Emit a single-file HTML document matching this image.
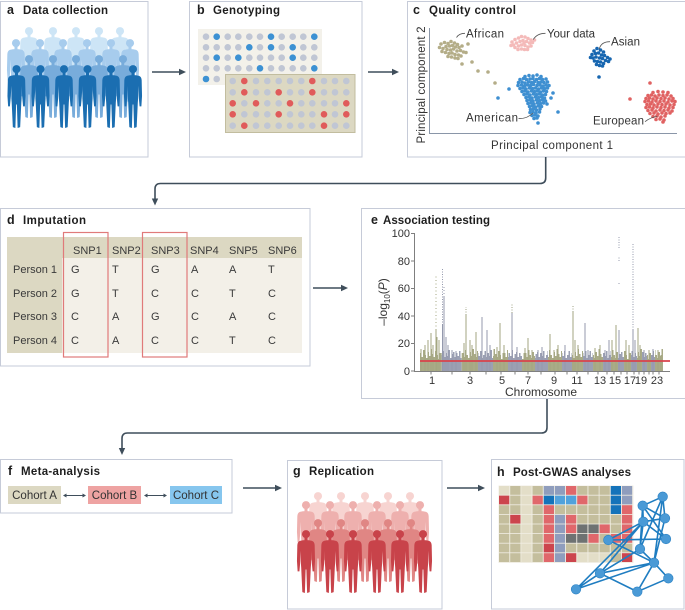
<!DOCTYPE html>
<html><head><meta charset="utf-8">
<style>
html,body{margin:0;padding:0;background:#fff;}
svg{display:block;font-family:"Liberation Sans",Arial,sans-serif;}
</style></head><body>
<svg width="685" height="610" viewBox="0 0 685 610" xmlns="http://www.w3.org/2000/svg">
<defs>
<symbol id="p" viewBox="0 0 20 68">
<circle cx="10" cy="4.4" r="4.3"/>
<rect x="8.4" y="7" width="3.2" height="5"/>
<path d="M3.5 11.5 Q10 10 16.5 11.5 Q19 12.5 19.2 16 L19.6 33 L18.9 44 L17 44 L16 33 L15.5 22 L15.4 36 L15.1 40 L13.9 66 L11.2 67 L10.4 42 L9.6 42 L8.8 67 L6.1 66 L4.9 40 L4.6 36 L4.5 22 L4 33 L3 44 L1.1 44 L0.4 33 L0.8 16 Q1 12.5 3.5 11.5 Z"/>
</symbol>
<pattern id="po" patternUnits="userSpaceOnUse" x="0" y="341" width="21" height="30">
<path d="M0.75 30V12M2.25 30V16M3.75 30V9M5.25 30V14M6.75 30V17M8.25 30V11M9.75 30V15M11.25 30V8M12.75 30V13M14.25 30V16M15.75 30V10M17.25 30V14M18.75 30V18M20.25 30V12" stroke="#a9ab87" stroke-width="1.5"/>
</pattern>
<pattern id="pg" patternUnits="userSpaceOnUse" x="0" y="341" width="21" height="30">
<path d="M0.75 30V14M2.25 30V10M3.75 30V16M5.25 30V12M6.75 30V15M8.25 30V9M9.75 30V17M11.25 30V13M12.75 30V11M14.25 30V16M15.75 30V12M17.25 30V15M18.75 30V10M20.25 30V17" stroke="#9ba0b3" stroke-width="1.5"/>
</pattern>
</defs>
<rect width="685" height="610" fill="#fff"/>

<!-- Panel boxes -->
<g fill="none" stroke="#c6cbd8" stroke-width="1">
<rect x="0.5" y="1.5" width="147.5" height="155.5"/>
<rect x="189.5" y="1.5" width="172.5" height="155.5"/>
<rect x="407.5" y="1.5" width="290" height="155.5"/>
<rect x="0.5" y="208.5" width="309.5" height="157.5"/>
<rect x="361.5" y="208.5" width="330" height="190"/>
<rect x="0.5" y="459.5" width="231.5" height="53.5"/>
<rect x="287.5" y="460.5" width="154.5" height="148.5"/>
<rect x="491.5" y="459.5" width="192.5" height="149.5"/>
</g>

<!-- Titles -->
<g font-weight="bold" font-size="11.5" fill="#1e1e1e">
<text x="7" y="14" font-size="12.5">a</text><text x="23" y="14" textLength="85">Data collection</text>
<text x="197" y="14" font-size="12.5">b</text><text x="213" y="14" textLength="67">Genotyping</text>
<text x="413" y="14" font-size="12.5">c</text><text x="429" y="14" textLength="87">Quality control</text>
<text x="7" y="224" font-size="12.5">d</text><text x="23" y="224" textLength="63">Imputation</text>
<text x="371" y="224" font-size="12.5">e</text><text x="383" y="224" textLength="107">Association testing</text>
<text x="8" y="475" font-size="12.5">f</text><text x="21" y="475" textLength="79">Meta-analysis</text>
<text x="293" y="475" font-size="12.5">g</text><text x="309" y="475" textLength="65">Replication</text>
<text x="497" y="476" font-size="12.5">h</text><text x="513" y="476" textLength="118">Post-GWAS analyses</text>
</g>

<!-- Arrows -->
<g stroke="#3f4e5b" stroke-width="1.6" fill="none">
<path d="M152 72H180"/>
<path d="M368 72H393"/>
<path d="M313 288H342"/>
<path d="M243 488H276"/>
<path d="M447 488H479"/>
<path d="M545.7 157V178Q545.7 183.5 540 183.5H160.5Q155 183.5 155 189V199"/>
<path d="M547 399V427.5Q547 433 541.5 433H127.5Q122 433 122 438.5V448"/>
</g>
<g fill="#3f4e5b">
<polygon points="186,72 179,68.8 179,75.2"/>
<polygon points="399,72 392,68.8 392,75.2"/>
<polygon points="348,288 341,284.8 341,291.2"/>
<polygon points="282,488 275,484.8 275,491.2"/>
<polygon points="485,488 478,484.8 478,491.2"/>
<polygon points="155,205.5 151.8,198.5 158.2,198.5"/>
<polygon points="122,455 118.8,448 125.2,448"/>
</g>

<!-- Panel a people -->
<g fill="#cde5f6">
<use href="#p" x="19.5" y="27" width="19" height="64"/><use href="#p" x="43.5" y="27" width="19" height="64"/><use href="#p" x="66.5" y="27" width="19" height="64"/><use href="#p" x="89.5" y="27" width="19" height="64"/><use href="#p" x="110.5" y="27" width="19" height="64"/>
</g>
<g fill="#a7cced">
<use href="#p" x="6.5" y="39" width="19" height="64"/><use href="#p" x="30.5" y="39" width="19" height="64"/><use href="#p" x="53.5" y="39" width="19" height="64"/><use href="#p" x="77.5" y="39" width="19" height="64"/><use href="#p" x="101.5" y="39" width="19" height="64"/><use href="#p" x="120.5" y="39" width="19" height="64"/>
</g>
<g fill="#78acdb">
<use href="#p" x="19.5" y="55" width="19" height="64"/><use href="#p" x="43.5" y="55" width="19" height="64"/><use href="#p" x="66.5" y="55" width="19" height="64"/><use href="#p" x="89.5" y="55" width="19" height="64"/><use href="#p" x="113.5" y="55" width="19" height="64"/>
</g>
<g fill="#1b6eb1">
<use href="#p" x="7" y="65" width="19" height="64"/><use href="#p" x="31" y="65" width="19" height="64"/><use href="#p" x="54.5" y="65" width="19" height="64"/><use href="#p" x="78" y="65" width="19" height="64"/><use href="#p" x="101.5" y="65" width="19" height="64"/><use href="#p" x="123.5" y="65" width="19" height="64"/>
</g>

<!-- Panel g people -->
<g fill="#f7d4d1">
<use href="#p" x="308.5" y="492" width="19" height="64"/><use href="#p" x="331.5" y="492" width="19" height="64"/><use href="#p" x="355.5" y="492" width="19" height="64"/><use href="#p" x="378.5" y="492" width="19" height="64"/><use href="#p" x="400.5" y="492" width="19" height="64"/>
</g>
<g fill="#eeb0ae">
<use href="#p" x="296.5" y="501" width="19" height="64"/><use href="#p" x="320.5" y="501" width="19" height="64"/><use href="#p" x="343.5" y="501" width="19" height="64"/><use href="#p" x="367.5" y="501" width="19" height="64"/><use href="#p" x="390.5" y="501" width="19" height="64"/><use href="#p" x="410.5" y="501" width="19" height="64"/>
</g>
<g fill="#e08684">
<use href="#p" x="308.5" y="519" width="19" height="64"/><use href="#p" x="331.5" y="519" width="19" height="64"/><use href="#p" x="355.5" y="519" width="19" height="64"/><use href="#p" x="378.5" y="519" width="19" height="64"/><use href="#p" x="401.5" y="519" width="19" height="64"/>
</g>
<g fill="#c8434a">
<use href="#p" x="296.5" y="530" width="19" height="64"/><use href="#p" x="320.5" y="530" width="19" height="64"/><use href="#p" x="343.5" y="530" width="19" height="64"/><use href="#p" x="367.5" y="530" width="19" height="64"/><use href="#p" x="390.5" y="530" width="19" height="64"/><use href="#p" x="413.5" y="530" width="19" height="64"/>
</g>

<!-- Panel b plates -->
<rect x="198" y="29" width="124" height="56" fill="#f3f1ea"/>
<g fill="#c0c6d4">
<circle cx="206" cy="36.7" r="3.3"/><circle cx="227.7" cy="36.7" r="3.3"/><circle cx="238.3" cy="36.7" r="3.3"/><circle cx="249.3" cy="36.7" r="3.3"/><circle cx="260" cy="36.7" r="3.3"/><circle cx="281.7" cy="36.7" r="3.3"/><circle cx="292.7" cy="36.7" r="3.3"/><circle cx="303.3" cy="36.7" r="3.3"/>
<circle cx="206" cy="47.3" r="3.3"/><circle cx="216.7" cy="47.3" r="3.3"/><circle cx="227.7" cy="47.3" r="3.3"/><circle cx="238.3" cy="47.3" r="3.3"/><circle cx="260" cy="47.3" r="3.3"/><circle cx="281.7" cy="47.3" r="3.3"/><circle cx="303.3" cy="47.3" r="3.3"/><circle cx="314.3" cy="47.3" r="3.3"/>
<circle cx="206" cy="57.7" r="3.3"/><circle cx="227.7" cy="57.7" r="3.3"/><circle cx="249.3" cy="57.7" r="3.3"/><circle cx="260" cy="57.7" r="3.3"/><circle cx="271" cy="57.7" r="3.3"/><circle cx="281.7" cy="57.7" r="3.3"/><circle cx="303.3" cy="57.7" r="3.3"/><circle cx="314.3" cy="57.7" r="3.3"/>
<circle cx="206" cy="68.3" r="3.3"/><circle cx="216.7" cy="68.3" r="3.3"/><circle cx="227.7" cy="68.3" r="3.3"/><circle cx="238.3" cy="68.3" r="3.3"/><circle cx="249.3" cy="68.3" r="3.3"/><circle cx="271" cy="68.3" r="3.3"/><circle cx="281.7" cy="68.3" r="3.3"/><circle cx="292.7" cy="68.3" r="3.3"/><circle cx="303.3" cy="68.3" r="3.3"/>
<circle cx="216.7" cy="79" r="3.3"/>
</g>
<g fill="#3c91d3">
<circle cx="216.7" cy="36.7" r="3.3"/><circle cx="271" cy="36.7" r="3.3"/><circle cx="314.3" cy="36.7" r="3.3"/>
<circle cx="249.3" cy="47.3" r="3.3"/><circle cx="271" cy="47.3" r="3.3"/><circle cx="292.7" cy="47.3" r="3.3"/>
<circle cx="216.7" cy="57.7" r="3.3"/><circle cx="238.3" cy="57.7" r="3.3"/><circle cx="292.7" cy="57.7" r="3.3"/>
<circle cx="260" cy="68.3" r="3.3"/><circle cx="314.3" cy="68.3" r="3.3"/>
<circle cx="206" cy="79" r="3.3"/>
</g>
<rect x="225.5" y="74.5" width="129.5" height="58" fill="#dcd8c2" stroke="#c2bd9f" stroke-width="1"/>
<g fill="#c0c6d4">
<circle cx="232.7" cy="81" r="3.3"/><circle cx="256" cy="81" r="3.3"/><circle cx="267.3" cy="81" r="3.3"/><circle cx="278.7" cy="81" r="3.3"/><circle cx="290" cy="81" r="3.3"/><circle cx="301.3" cy="81" r="3.3"/><circle cx="324" cy="81" r="3.3"/><circle cx="335" cy="81" r="3.3"/><circle cx="346.3" cy="81" r="3.3"/>
<circle cx="232.7" cy="92.3" r="3.3"/><circle cx="256" cy="92.3" r="3.3"/><circle cx="267.3" cy="92.3" r="3.3"/><circle cx="290" cy="92.3" r="3.3"/><circle cx="301.3" cy="92.3" r="3.3"/><circle cx="324" cy="92.3" r="3.3"/><circle cx="335" cy="92.3" r="3.3"/><circle cx="346.3" cy="92.3" r="3.3"/>
<circle cx="244.3" cy="103.3" r="3.3"/><circle cx="267.3" cy="103.3" r="3.3"/><circle cx="278.7" cy="103.3" r="3.3"/><circle cx="301.3" cy="103.3" r="3.3"/><circle cx="312.3" cy="103.3" r="3.3"/><circle cx="324" cy="103.3" r="3.3"/><circle cx="335" cy="103.3" r="3.3"/>
<circle cx="244.3" cy="114.3" r="3.3"/><circle cx="256" cy="114.3" r="3.3"/><circle cx="267.3" cy="114.3" r="3.3"/><circle cx="290" cy="114.3" r="3.3"/><circle cx="301.3" cy="114.3" r="3.3"/><circle cx="312.3" cy="114.3" r="3.3"/><circle cx="335" cy="114.3" r="3.3"/>
<circle cx="232.7" cy="125.7" r="3.3"/><circle cx="256" cy="125.7" r="3.3"/><circle cx="267.3" cy="125.7" r="3.3"/><circle cx="278.7" cy="125.7" r="3.3"/><circle cx="290" cy="125.7" r="3.3"/><circle cx="301.3" cy="125.7" r="3.3"/><circle cx="312.3" cy="125.7" r="3.3"/><circle cx="335" cy="125.7" r="3.3"/><circle cx="346.3" cy="125.7" r="3.3"/>
</g>
<g fill="#e05b5b">
<circle cx="244.3" cy="81" r="3.3"/><circle cx="312.3" cy="81" r="3.3"/>
<circle cx="244.3" cy="92.3" r="3.3"/><circle cx="278.7" cy="92.3" r="3.3"/><circle cx="312.3" cy="92.3" r="3.3"/>
<circle cx="232.7" cy="103.3" r="3.3"/><circle cx="256" cy="103.3" r="3.3"/><circle cx="290" cy="103.3" r="3.3"/><circle cx="346.3" cy="103.3" r="3.3"/>
<circle cx="232.7" cy="114.3" r="3.3"/><circle cx="278.7" cy="114.3" r="3.3"/><circle cx="324" cy="114.3" r="3.3"/><circle cx="346.3" cy="114.3" r="3.3"/>
<circle cx="244.3" cy="125.7" r="3.3"/><circle cx="324" cy="125.7" r="3.3"/>
</g>

<!-- Panel c -->
<g stroke="#8a96a8" stroke-width="1">
<line x1="429.5" y1="28" x2="429.5" y2="133.5"/>
<line x1="429" y1="133.5" x2="677" y2="133.5"/>
</g>
<text transform="translate(425,85) rotate(-90)" text-anchor="middle" font-size="11.5" fill="#333" textLength="117">Principal component 2</text>
<text x="491" y="149" font-size="11.5" fill="#333" textLength="122">Principal component 1</text>
<g fill="#b4ad88">
<circle cx="441" cy="44" r="1.8"/><circle cx="444.5" cy="42.5" r="1.8"/><circle cx="448" cy="43.5" r="1.8"/><circle cx="451" cy="41.5" r="1.8"/><circle cx="454.5" cy="43" r="1.8"/><circle cx="457.5" cy="44.5" r="1.8"/><circle cx="446" cy="46.5" r="1.8"/><circle cx="449.5" cy="46" r="1.8"/><circle cx="452.5" cy="45.5" r="1.8"/><circle cx="455.5" cy="47" r="1.8"/><circle cx="459" cy="47.5" r="1.8"/><circle cx="462" cy="46" r="1.8"/><circle cx="443" cy="48.5" r="1.8"/><circle cx="447" cy="49.5" r="1.8"/><circle cx="450.5" cy="50" r="1.8"/><circle cx="453.5" cy="49" r="1.8"/><circle cx="457" cy="51" r="1.8"/><circle cx="460.5" cy="50.5" r="1.8"/><circle cx="463.5" cy="52" r="1.8"/><circle cx="445.5" cy="52.5" r="1.8"/><circle cx="449" cy="53.5" r="1.8"/><circle cx="452" cy="53" r="1.8"/><circle cx="455" cy="54.5" r="1.8"/><circle cx="458.5" cy="55" r="1.8"/><circle cx="448" cy="56.5" r="1.8"/><circle cx="451.5" cy="57" r="1.8"/><circle cx="455" cy="58" r="1.8"/><circle cx="458" cy="58.5" r="1.8"/><circle cx="439.5" cy="47.5" r="1.8"/><circle cx="442" cy="51.5" r="1.8"/><circle cx="461" cy="56" r="1.8"/><circle cx="466" cy="52.5" r="1.8"/><circle cx="468" cy="44" r="1.8"/><circle cx="472" cy="62" r="1.8"/><circle cx="462" cy="64" r="1.8"/><circle cx="478" cy="71" r="1.8"/><circle cx="488" cy="72" r="1.8"/><circle cx="495" cy="83" r="1.8"/>
</g>
<g fill="#f4bab9">
<circle cx="512" cy="42" r="1.8"/><circle cx="515" cy="39.5" r="1.8"/><circle cx="518.5" cy="38" r="1.8"/><circle cx="521.5" cy="36.5" r="1.8"/><circle cx="525" cy="37" r="1.8"/><circle cx="528" cy="38.5" r="1.8"/><circle cx="531" cy="40" r="1.8"/><circle cx="513.5" cy="45" r="1.8"/><circle cx="516.5" cy="43" r="1.8"/><circle cx="520" cy="41.5" r="1.8"/><circle cx="523" cy="40.5" r="1.8"/><circle cx="526.5" cy="41.5" r="1.8"/><circle cx="529.5" cy="43" r="1.8"/><circle cx="532.5" cy="42.5" r="1.8"/><circle cx="515" cy="47.5" r="1.8"/><circle cx="518.5" cy="46" r="1.8"/><circle cx="521.5" cy="45" r="1.8"/><circle cx="525" cy="45.5" r="1.8"/><circle cx="528" cy="47" r="1.8"/><circle cx="531" cy="46" r="1.8"/><circle cx="518" cy="49.5" r="1.8"/><circle cx="521.5" cy="49" r="1.8"/><circle cx="524.5" cy="49.5" r="1.8"/><circle cx="527.5" cy="49.5" r="1.8"/><circle cx="534.5" cy="40" r="1.8"/><circle cx="511" cy="45.5" r="1.8"/><circle cx="524" cy="43" r="1.8"/>
</g>
<g fill="#1766b0">
<circle cx="594" cy="51" r="1.8"/><circle cx="597" cy="48.5" r="1.8"/><circle cx="600.5" cy="50" r="1.8"/><circle cx="603.5" cy="52" r="1.8"/><circle cx="592" cy="54.5" r="1.8"/><circle cx="595.5" cy="53.5" r="1.8"/><circle cx="598.5" cy="53" r="1.8"/><circle cx="601.5" cy="55" r="1.8"/><circle cx="604.5" cy="55.5" r="1.8"/><circle cx="607.5" cy="57.5" r="1.8"/><circle cx="593" cy="58" r="1.8"/><circle cx="596" cy="57" r="1.8"/><circle cx="599.5" cy="58" r="1.8"/><circle cx="602.5" cy="58.5" r="1.8"/><circle cx="605.5" cy="60.5" r="1.8"/><circle cx="608.5" cy="61.5" r="1.8"/><circle cx="594.5" cy="61" r="1.8"/><circle cx="597.5" cy="61.5" r="1.8"/><circle cx="600.5" cy="62" r="1.8"/><circle cx="603.5" cy="63.5" r="1.8"/><circle cx="596.5" cy="64.5" r="1.8"/><circle cx="599.5" cy="65.5" r="1.8"/><circle cx="602.5" cy="66" r="1.8"/><circle cx="590.5" cy="57.5" r="1.8"/><circle cx="610" cy="59" r="1.8"/><circle cx="599" cy="77" r="1.8"/>
</g>
<g fill="#3e8fd1">
<circle cx="525" cy="76.5" r="1.8"/><circle cx="529" cy="75.5" r="1.8"/><circle cx="533" cy="76" r="1.8"/><circle cx="537" cy="75" r="1.8"/><circle cx="541" cy="76.5" r="1.8"/>
<circle cx="520" cy="79.5" r="1.8"/><circle cx="523.5" cy="78.5" r="1.8"/><circle cx="526.5" cy="79.5" r="1.8"/><circle cx="530" cy="79" r="1.8"/><circle cx="533" cy="78.5" r="1.8"/><circle cx="536.5" cy="79.5" r="1.8"/><circle cx="539.5" cy="78.5" r="1.8"/><circle cx="542.5" cy="79.5" r="1.8"/><circle cx="546" cy="79" r="1.8"/>
<circle cx="518.5" cy="82.5" r="1.8"/><circle cx="522" cy="82" r="1.8"/><circle cx="525" cy="83" r="1.8"/><circle cx="528.5" cy="82" r="1.8"/><circle cx="531.5" cy="82.5" r="1.8"/><circle cx="534.5" cy="81.5" r="1.8"/><circle cx="538" cy="82.5" r="1.8"/><circle cx="541" cy="82" r="1.8"/><circle cx="544" cy="82.5" r="1.8"/><circle cx="547.5" cy="82" r="1.8"/>
<circle cx="518" cy="85.5" r="1.8"/><circle cx="521.5" cy="85" r="1.8"/><circle cx="524.5" cy="86" r="1.8"/><circle cx="527.5" cy="85" r="1.8"/><circle cx="530.5" cy="85.5" r="1.8"/><circle cx="533.5" cy="84.5" r="1.8"/><circle cx="537" cy="85.5" r="1.8"/><circle cx="540" cy="85" r="1.8"/><circle cx="543" cy="86" r="1.8"/><circle cx="546" cy="85" r="1.8"/><circle cx="549" cy="85.5" r="1.8"/>
<circle cx="520" cy="88.5" r="1.8"/><circle cx="523" cy="88" r="1.8"/><circle cx="526" cy="89" r="1.8"/><circle cx="529.5" cy="88" r="1.8"/><circle cx="532.5" cy="88.5" r="1.8"/><circle cx="535.5" cy="88" r="1.8"/><circle cx="538.5" cy="89" r="1.8"/><circle cx="541.5" cy="88" r="1.8"/><circle cx="544.5" cy="88.5" r="1.8"/><circle cx="547.5" cy="88" r="1.8"/>
<circle cx="522" cy="91.5" r="1.8"/><circle cx="525" cy="91" r="1.8"/><circle cx="528" cy="92" r="1.8"/><circle cx="531.5" cy="91" r="1.8"/><circle cx="534.5" cy="91.5" r="1.8"/><circle cx="537.5" cy="91" r="1.8"/><circle cx="540.5" cy="92" r="1.8"/><circle cx="543.5" cy="91" r="1.8"/><circle cx="546.5" cy="91.5" r="1.8"/>
<circle cx="524" cy="94.5" r="1.8"/><circle cx="527" cy="94" r="1.8"/><circle cx="530" cy="95" r="1.8"/><circle cx="533.5" cy="94" r="1.8"/><circle cx="536.5" cy="94.5" r="1.8"/><circle cx="539.5" cy="94" r="1.8"/><circle cx="542.5" cy="95" r="1.8"/><circle cx="545.5" cy="94.5" r="1.8"/>
<circle cx="526" cy="97.5" r="1.8"/><circle cx="529" cy="97" r="1.8"/><circle cx="532" cy="98" r="1.8"/><circle cx="535.5" cy="97" r="1.8"/><circle cx="538.5" cy="97.5" r="1.8"/><circle cx="541.5" cy="97" r="1.8"/><circle cx="544.5" cy="98" r="1.8"/>
<circle cx="527" cy="100.5" r="1.8"/><circle cx="530" cy="100" r="1.8"/><circle cx="533" cy="101" r="1.8"/><circle cx="536.5" cy="100" r="1.8"/><circle cx="539.5" cy="100.5" r="1.8"/><circle cx="542.5" cy="100" r="1.8"/><circle cx="545.5" cy="101" r="1.8"/>
<circle cx="528" cy="103.5" r="1.8"/><circle cx="531" cy="103" r="1.8"/><circle cx="534" cy="104" r="1.8"/><circle cx="537.5" cy="103" r="1.8"/><circle cx="540.5" cy="103.5" r="1.8"/><circle cx="543.5" cy="103" r="1.8"/>
<circle cx="529.5" cy="106.5" r="1.8"/><circle cx="532.5" cy="106" r="1.8"/><circle cx="535.5" cy="107" r="1.8"/><circle cx="538.5" cy="106" r="1.8"/><circle cx="541.5" cy="106.5" r="1.8"/>
<circle cx="530.5" cy="109.5" r="1.8"/><circle cx="533.5" cy="109" r="1.8"/><circle cx="536.5" cy="110" r="1.8"/><circle cx="540" cy="109" r="1.8"/>
<circle cx="530" cy="112.5" r="1.8"/><circle cx="533" cy="112" r="1.8"/><circle cx="536" cy="113" r="1.8"/><circle cx="539.5" cy="112" r="1.8"/>
<circle cx="532" cy="115.5" r="1.8"/><circle cx="535" cy="115" r="1.8"/><circle cx="538" cy="116" r="1.8"/>
<circle cx="534" cy="118.5" r="1.8"/><circle cx="537" cy="118" r="1.8"/>
<circle cx="509" cy="89" r="1.8"/><circle cx="498" cy="98" r="1.8"/><circle cx="558" cy="112" r="1.8"/><circle cx="538" cy="123" r="1.8"/><circle cx="551" cy="98" r="1.8"/><circle cx="553" cy="93" r="1.8"/><circle cx="547" cy="104" r="1.8"/>
</g>
<g fill="#e06262">
<circle cx="653" cy="92.5" r="1.8"/><circle cx="658" cy="91.5" r="1.8"/><circle cx="663" cy="92" r="1.8"/><circle cx="668" cy="92.5" r="1.8"/>
<circle cx="648" cy="95.5" r="1.8"/><circle cx="651.5" cy="95" r="1.8"/><circle cx="655" cy="96" r="1.8"/><circle cx="659" cy="95" r="1.8"/><circle cx="663" cy="95.5" r="1.8"/><circle cx="667" cy="95" r="1.8"/><circle cx="671" cy="96" r="1.8"/>
<circle cx="646" cy="98.5" r="1.8"/><circle cx="649.5" cy="98" r="1.8"/><circle cx="653" cy="99" r="1.8"/><circle cx="657" cy="98" r="1.8"/><circle cx="661" cy="98.5" r="1.8"/><circle cx="665" cy="98" r="1.8"/><circle cx="669" cy="99" r="1.8"/><circle cx="673" cy="98.5" r="1.8"/>
<circle cx="645" cy="101.5" r="1.8"/><circle cx="648.5" cy="101" r="1.8"/><circle cx="652" cy="102" r="1.8"/><circle cx="656" cy="101" r="1.8"/><circle cx="660" cy="101.5" r="1.8"/><circle cx="664" cy="101" r="1.8"/><circle cx="668" cy="102" r="1.8"/><circle cx="672" cy="101" r="1.8"/><circle cx="675" cy="101.5" r="1.8"/>
<circle cx="647" cy="104.5" r="1.8"/><circle cx="650.5" cy="104" r="1.8"/><circle cx="654" cy="105" r="1.8"/><circle cx="658" cy="104" r="1.8"/><circle cx="662" cy="104.5" r="1.8"/><circle cx="666" cy="104" r="1.8"/><circle cx="670" cy="105" r="1.8"/><circle cx="674" cy="104.5" r="1.8"/>
<circle cx="646" cy="107.5" r="1.8"/><circle cx="649.5" cy="107" r="1.8"/><circle cx="653" cy="108" r="1.8"/><circle cx="657" cy="107" r="1.8"/><circle cx="661" cy="107.5" r="1.8"/><circle cx="665" cy="107" r="1.8"/><circle cx="669" cy="108" r="1.8"/><circle cx="673" cy="107.5" r="1.8"/>
<circle cx="648" cy="110.5" r="1.8"/><circle cx="652" cy="110" r="1.8"/><circle cx="656" cy="111" r="1.8"/><circle cx="660" cy="110" r="1.8"/><circle cx="664" cy="110.5" r="1.8"/><circle cx="668" cy="110" r="1.8"/><circle cx="672" cy="111" r="1.8"/>
<circle cx="650" cy="113.5" r="1.8"/><circle cx="654" cy="113" r="1.8"/><circle cx="658" cy="114" r="1.8"/><circle cx="662" cy="113" r="1.8"/><circle cx="666" cy="113.5" r="1.8"/><circle cx="670" cy="113" r="1.8"/>
<circle cx="653" cy="116.5" r="1.8"/><circle cx="657" cy="116" r="1.8"/><circle cx="661" cy="117" r="1.8"/><circle cx="665" cy="116" r="1.8"/>
<circle cx="656" cy="119.5" r="1.8"/><circle cx="660" cy="119" r="1.8"/><circle cx="664" cy="120" r="1.8"/>
<circle cx="630" cy="99" r="1.8"/><circle cx="650" cy="83" r="1.8"/><circle cx="663" cy="122" r="1.8"/>
</g>
<g fill="none" stroke="#555" stroke-width="0.8">
<path d="M456.5 37.5Q459 33.3 465 33.3"/>
<path d="M533.3 39.5Q537 33.3 545.5 33.3"/>
<path d="M599.3 49Q601 41.7 610 41.7"/>
<path d="M518.5 118.5Q527 119 533 113"/>
<path d="M645 121.7Q651 117 657.3 116.5"/>
</g>
<g font-size="11.5" fill="#333">
<text x="466" y="37.5" textLength="38">African</text>
<text x="547" y="37.5" textLength="48">Your data</text>
<text x="611" y="45.5" textLength="29">Asian</text>
<text x="518" y="121.5" text-anchor="end" textLength="52">American</text>
<text x="593" y="124.5" textLength="51">European</text>
</g>

<!-- Panel d table -->
<rect x="7" y="237" width="295" height="21" fill="#dcd8c2"/>
<rect x="7" y="258" width="55" height="95" fill="#dcd8c2"/>
<rect x="62" y="258" width="240" height="95" fill="#f3f0e8"/>
<g fill="none" stroke="#e07a7a" stroke-width="1.2">
<rect x="63.5" y="232.5" width="44.5" height="124.5"/>
<rect x="142.5" y="232.5" width="44.5" height="124.5"/>
</g>
<g font-size="11" fill="#3a3a3a">
<text x="73" y="254">SNP1</text><text x="112" y="254">SNP2</text><text x="151" y="254">SNP3</text><text x="190" y="254">SNP4</text><text x="229" y="254">SNP5</text><text x="268" y="254">SNP6</text>
<text x="13" y="273">Person 1</text><text x="13" y="297">Person 2</text><text x="13" y="320">Person 3</text><text x="13" y="344">Person 4</text>
<text x="71" y="273">G</text><text x="112" y="273">T</text><text x="151" y="273">G</text><text x="191" y="273">A</text><text x="229" y="273">A</text><text x="268" y="273">T</text>
<text x="71" y="297">G</text><text x="112" y="297">T</text><text x="151" y="297">C</text><text x="191" y="297">C</text><text x="229" y="297">T</text><text x="268" y="297">C</text>
<text x="71" y="320">C</text><text x="112" y="320">A</text><text x="151" y="320">G</text><text x="191" y="320">C</text><text x="229" y="320">A</text><text x="268" y="320">C</text>
<text x="71" y="344">C</text><text x="112" y="344">A</text><text x="151" y="344">C</text><text x="191" y="344">C</text><text x="229" y="344">T</text><text x="268" y="344">C</text>
</g>

<!-- Panel e Manhattan -->
<g>
<rect x="420" y="341" width="21.7" height="30" fill="url(#po)"/>
<rect x="441.7" y="341" width="20" height="30" fill="url(#pg)"/>
<rect x="461.7" y="341" width="16.3" height="30" fill="url(#po)"/>
<rect x="478" y="341" width="15" height="30" fill="url(#pg)"/>
<rect x="493" y="341" width="15" height="30" fill="url(#po)"/>
<rect x="508" y="341" width="14" height="30" fill="url(#pg)"/>
<rect x="522" y="341" width="13" height="30" fill="url(#po)"/>
<rect x="535" y="341" width="13" height="30" fill="url(#pg)"/>
<rect x="548" y="341" width="14" height="30" fill="url(#po)"/>
<rect x="562" y="341" width="10" height="30" fill="url(#pg)"/>
<rect x="572" y="341" width="11" height="30" fill="url(#po)"/>
<rect x="583" y="341" width="10" height="30" fill="url(#pg)"/>
<rect x="593" y="341" width="10" height="30" fill="url(#po)"/>
<rect x="603" y="341" width="8" height="30" fill="url(#pg)"/>
<rect x="611" y="341" width="7" height="30" fill="url(#po)"/>
<rect x="618" y="341" width="6" height="30" fill="url(#pg)"/>
<rect x="624" y="341" width="7" height="30" fill="url(#po)"/>
<rect x="631" y="341" width="6" height="30" fill="url(#pg)"/>
<rect x="637" y="341" width="5" height="30" fill="url(#po)"/>
<rect x="642" y="341" width="5" height="30" fill="url(#pg)"/>
<rect x="647" y="341" width="4" height="30" fill="url(#po)"/>
<rect x="651" y="341" width="4" height="30" fill="url(#pg)"/>
<rect x="655" y="341" width="8" height="30" fill="url(#po)"/>
</g>
<path d="M421 371V349M425 371V345M428 371V340M431 371V333M433 371V345M436 371V330M437 371V337M439 371V340M464 371V343M466 371V315M470 371V340M472 371V345M476 371V332M497 371V347M500 371V323M504 371V345M525 371V348M528 371V338M532 371V350M550 371V334M554 371V350M558 371V345M573 371V312M575 371V340M578 371V345M595 371V348M600 371V345M612 371V340M616 371V325M626 371V340M629 371V345M638 371V328M640 371V345M649 371V350M658 371V350M661 371V355" stroke="#a3a680" stroke-width="1"/>
<path d="M442.5 371V325M444 371V297M446 371V337M448 371V345M452 371V350M456 371V351M482 371V317M487 371V330M490 371V345M512 371V313M517 371V347M538 371V350M542 371V347M565 371V345M585 371V323M588 371V350M605 371V350M609 371V340M619 371V330M633 371V330M635 371V340M644 371V350M653 371V349" stroke="#9499ad" stroke-width="1"/>
<path d="M436 330V275" stroke="#a3a680" stroke-width="1" stroke-dasharray="1 2.5"/>
<path d="M442.5 325V268" stroke="#9499ad" stroke-width="1" stroke-dasharray="1 1.5"/>
<path d="M444 297V285" stroke="#9499ad" stroke-width="1" stroke-dasharray="1 2"/>
<path d="M633 330V244" stroke="#9499ad" stroke-width="1" stroke-dasharray="1 1.5"/>
<path d="M619 248V237M619 261V257M619 284V282" stroke="#9499ad" stroke-width="1" stroke-dasharray="1 1.5"/>
<path d="M466 315V307M512 313V303M573 312V305" stroke="#9ea283" stroke-width="1" stroke-dasharray="1 1.5"/>
<line x1="420" y1="361" x2="670" y2="361" stroke="#d9434b" stroke-width="1.8"/>
<g stroke="#7f7f7f" stroke-width="1">
<line x1="414.5" y1="233" x2="414.5" y2="371.5"/>
<line x1="414" y1="371.5" x2="670" y2="371.5"/>
<path d="M411 233.5H414.5M411 261H414.5M411 288.5H414.5M411 316H414.5M411 343.5H414.5M411 371H414.5"/>
<path d="M431 371.5V374.5M452 371.5V374.5M470 371.5V374.5M486 371.5V374.5M501 371.5V374.5M515 371.5V374.5M528 371.5V374.5M541 371.5V374.5M555 371.5V374.5M567 371.5V374.5M577 371.5V374.5M588 371.5V374.5M598 371.5V374.5M607 371.5V374.5M614 371.5V374.5M621 371.5V374.5M627 371.5V374.5M634 371.5V374.5M639 371.5V374.5M644 371.5V374.5M649 371.5V374.5M653 371.5V374.5M659 371.5V374.5"/>
</g>
<g font-size="11" fill="#333" text-anchor="end">
<text x="410" y="237">100</text><text x="410" y="265">80</text><text x="410" y="292">60</text><text x="410" y="320">40</text><text x="410" y="347">20</text><text x="410" y="375">0</text>
</g>
<g font-size="11" fill="#333" text-anchor="middle">
<text x="432" y="384">1</text><text x="470" y="384">3</text><text x="502" y="384">5</text><text x="528" y="384">7</text><text x="554" y="384">9</text><text x="577" y="384">11</text><text x="600" y="384">13</text><text x="615" y="384">15</text><text x="630" y="384">17</text><text x="641" y="384">19</text><text x="657" y="384">23</text>
</g>
<text x="541" y="396" font-size="12" fill="#333" text-anchor="middle">Chromosome</text>
<text transform="translate(387,302) rotate(-90)" text-anchor="middle" font-size="12" fill="#333">–log<tspan font-size="8" dy="3">10</tspan><tspan dy="-3">(</tspan><tspan font-style="italic">P</tspan>)</text>

<!-- Panel f -->
<rect x="8" y="486" width="53" height="18" fill="#dcd8c2"/>
<rect x="88" y="486" width="53" height="18" fill="#eea3a2"/>
<rect x="170" y="486" width="52" height="18" fill="#86c6ee"/>
<g font-size="11.5" fill="#333" text-anchor="middle">
<text x="34.5" y="499">Cohort A</text><text x="114.5" y="499">Cohort B</text><text x="196" y="499">Cohort C</text>
</g>
<g stroke="#3f4e5b" stroke-width="0.9">
<line x1="65" y1="495.5" x2="84" y2="495.5"/>
<line x1="146" y1="495.5" x2="165" y2="495.5"/>
</g>
<g fill="#3f4e5b">
<polygon points="63,495.5 66.5,493.5 66.5,497.5"/><polygon points="86,495.5 82.5,493.5 82.5,497.5"/>
<polygon points="144,495.5 147.5,493.5 147.5,497.5"/><polygon points="167,495.5 163.5,493.5 163.5,497.5"/>
</g>

<!-- Panel h heatmap -->
<rect x="498.5" y="485.5" width="135" height="77.5" fill="#f1eee4"/>
<g>
<rect x="499" y="486" width="10.3" height="8.8" fill="#e3dec8"/><rect x="510.2" y="486" width="10.3" height="8.8" fill="#c4be9d"/><rect x="521.3" y="486" width="10.3" height="8.8" fill="#e3dec8"/><rect x="532.5" y="486" width="10.3" height="8.8" fill="#c4be9d"/><rect x="543.7" y="486" width="10.3" height="8.8" fill="#8f9dbd"/><rect x="554.8" y="486" width="10.3" height="8.8" fill="#8f9dbd"/><rect x="566" y="486" width="10.3" height="8.8" fill="#e0676b"/><rect x="577.2" y="486" width="10.3" height="8.8" fill="#c4be9d"/><rect x="588.4" y="486" width="10.3" height="8.8" fill="#c4be9d"/><rect x="599.5" y="486" width="10.3" height="8.8" fill="#c4be9d"/><rect x="610.7" y="486" width="10.3" height="8.8" fill="#1473ba"/><rect x="621.9" y="486" width="10.3" height="8.8" fill="#8f9dbd"/>
<rect x="499" y="495.6" width="10.3" height="8.8" fill="#cc454d"/><rect x="510.2" y="495.6" width="10.3" height="8.8" fill="#c4be9d"/><rect x="521.3" y="495.6" width="10.3" height="8.8" fill="#e3dec8"/><rect x="532.5" y="495.6" width="10.3" height="8.8" fill="#e0676b"/><rect x="543.7" y="495.6" width="10.3" height="8.8" fill="#1473ba"/><rect x="554.8" y="495.6" width="10.3" height="8.8" fill="#51a2dc"/><rect x="566" y="495.6" width="10.3" height="8.8" fill="#51a2dc"/><rect x="577.2" y="495.6" width="10.3" height="8.8" fill="#e0676b"/><rect x="588.4" y="495.6" width="10.3" height="8.8" fill="#c4be9d"/><rect x="599.5" y="495.6" width="10.3" height="8.8" fill="#c4be9d"/><rect x="610.7" y="495.6" width="10.3" height="8.8" fill="#1473ba"/><rect x="621.9" y="495.6" width="10.3" height="8.8" fill="#8f9dbd"/>
<rect x="499" y="505.2" width="10.3" height="8.8" fill="#c4be9d"/><rect x="510.2" y="505.2" width="10.3" height="8.8" fill="#c4be9d"/><rect x="521.3" y="505.2" width="10.3" height="8.8" fill="#e3dec8"/><rect x="532.5" y="505.2" width="10.3" height="8.8" fill="#c4be9d"/><rect x="543.7" y="505.2" width="10.3" height="8.8" fill="#e0676b"/><rect x="554.8" y="505.2" width="10.3" height="8.8" fill="#c4be9d"/><rect x="566" y="505.2" width="10.3" height="8.8" fill="#c4be9d"/><rect x="577.2" y="505.2" width="10.3" height="8.8" fill="#c4be9d"/><rect x="588.4" y="505.2" width="10.3" height="8.8" fill="#c4be9d"/><rect x="599.5" y="505.2" width="10.3" height="8.8" fill="#c4be9d"/><rect x="610.7" y="505.2" width="10.3" height="8.8" fill="#1473ba"/><rect x="621.9" y="505.2" width="10.3" height="8.8" fill="#e0676b"/>
<rect x="499" y="514.8" width="10.3" height="8.8" fill="#c4be9d"/><rect x="510.2" y="514.8" width="10.3" height="8.8" fill="#cc454d"/><rect x="521.3" y="514.8" width="10.3" height="8.8" fill="#e3dec8"/><rect x="532.5" y="514.8" width="10.3" height="8.8" fill="#c4be9d"/><rect x="543.7" y="514.8" width="10.3" height="8.8" fill="#e0676b"/><rect x="554.8" y="514.8" width="10.3" height="8.8" fill="#8f9dbd"/><rect x="566" y="514.8" width="10.3" height="8.8" fill="#e0676b"/><rect x="577.2" y="514.8" width="10.3" height="8.8" fill="#c4be9d"/><rect x="588.4" y="514.8" width="10.3" height="8.8" fill="#c4be9d"/><rect x="599.5" y="514.8" width="10.3" height="8.8" fill="#c4be9d"/><rect x="610.7" y="514.8" width="10.3" height="8.8" fill="#c4be9d"/><rect x="621.9" y="514.8" width="10.3" height="8.8" fill="#e0676b"/>
<rect x="499" y="524.4" width="10.3" height="8.8" fill="#c4be9d"/><rect x="510.2" y="524.4" width="10.3" height="8.8" fill="#c4be9d"/><rect x="521.3" y="524.4" width="10.3" height="8.8" fill="#e3dec8"/><rect x="532.5" y="524.4" width="10.3" height="8.8" fill="#c4be9d"/><rect x="543.7" y="524.4" width="10.3" height="8.8" fill="#e0676b"/><rect x="554.8" y="524.4" width="10.3" height="8.8" fill="#8f9dbd"/><rect x="566" y="524.4" width="10.3" height="8.8" fill="#e0676b"/><rect x="577.2" y="524.4" width="10.3" height="8.8" fill="#6e7272"/><rect x="588.4" y="524.4" width="10.3" height="8.8" fill="#6e7272"/><rect x="599.5" y="524.4" width="10.3" height="8.8" fill="#e0676b"/><rect x="610.7" y="524.4" width="10.3" height="8.8" fill="#c4be9d"/><rect x="621.9" y="524.4" width="10.3" height="8.8" fill="#e0676b"/>
<rect x="499" y="534" width="10.3" height="8.8" fill="#c4be9d"/><rect x="510.2" y="534" width="10.3" height="8.8" fill="#c4be9d"/><rect x="521.3" y="534" width="10.3" height="8.8" fill="#e3dec8"/><rect x="532.5" y="534" width="10.3" height="8.8" fill="#c4be9d"/><rect x="543.7" y="534" width="10.3" height="8.8" fill="#e0676b"/><rect x="554.8" y="534" width="10.3" height="8.8" fill="#8f9dbd"/><rect x="566" y="534" width="10.3" height="8.8" fill="#6e7272"/><rect x="577.2" y="534" width="10.3" height="8.8" fill="#6e7272"/><rect x="588.4" y="534" width="10.3" height="8.8" fill="#e0676b"/><rect x="599.5" y="534" width="10.3" height="8.8" fill="#c4be9d"/><rect x="610.7" y="534" width="10.3" height="8.8" fill="#e0676b"/><rect x="621.9" y="534" width="10.3" height="8.8" fill="#e0676b"/>
<rect x="499" y="543.6" width="10.3" height="8.8" fill="#c4be9d"/><rect x="510.2" y="543.6" width="10.3" height="8.8" fill="#c4be9d"/><rect x="521.3" y="543.6" width="10.3" height="8.8" fill="#e3dec8"/><rect x="532.5" y="543.6" width="10.3" height="8.8" fill="#c4be9d"/><rect x="543.7" y="543.6" width="10.3" height="8.8" fill="#cc454d"/><rect x="554.8" y="543.6" width="10.3" height="8.8" fill="#8f9dbd"/><rect x="566" y="543.6" width="10.3" height="8.8" fill="#c4be9d"/><rect x="577.2" y="543.6" width="10.3" height="8.8" fill="#c4be9d"/><rect x="588.4" y="543.6" width="10.3" height="8.8" fill="#c4be9d"/><rect x="599.5" y="543.6" width="10.3" height="8.8" fill="#c4be9d"/><rect x="610.7" y="543.6" width="10.3" height="8.8" fill="#c4be9d"/><rect x="621.9" y="543.6" width="10.3" height="8.8" fill="#c4be9d"/>
<rect x="499" y="553.2" width="10.3" height="8.8" fill="#c4be9d"/><rect x="510.2" y="553.2" width="10.3" height="8.8" fill="#c4be9d"/><rect x="521.3" y="553.2" width="10.3" height="8.8" fill="#e3dec8"/><rect x="532.5" y="553.2" width="10.3" height="8.8" fill="#c4be9d"/><rect x="543.7" y="553.2" width="10.3" height="8.8" fill="#e0676b"/><rect x="554.8" y="553.2" width="10.3" height="8.8" fill="#8f9dbd"/><rect x="566" y="553.2" width="10.3" height="8.8" fill="#cc454d"/><rect x="577.2" y="553.2" width="10.3" height="8.8" fill="#e3dec8"/><rect x="588.4" y="553.2" width="10.3" height="8.8" fill="#e3dec8"/><rect x="599.5" y="553.2" width="10.3" height="8.8" fill="#e3dec8"/><rect x="610.7" y="553.2" width="10.3" height="8.8" fill="#c4be9d"/><rect x="621.9" y="553.2" width="10.3" height="8.8" fill="#cc454d"/>
</g>
<!-- Network -->
<g stroke="#1f7dc1" stroke-width="1.6" fill="none">
<path d="M662.7 496.7L642.7 505.7M662.7 496.7L665 518.3M662.7 496.7L640 549M662.7 496.7L654 562.7M642.7 505.7L643.3 521.7M642.7 505.7L665 518.3M642.7 505.7L666 539M642.7 505.7L640 549M665 518.3L643.3 521.7M665 518.3L654 562.7M643.3 521.7L608.3 540M643.3 521.7L666 539M643.3 521.7L640 549M643.3 521.7L600 573.3M643.3 521.7L576 589.3M608.3 540L654 562.7M608.3 540L666 539M640 549L654 562.7M640 549L600 573.3M654 562.7L600 573.3M654 562.7L668.3 578.3M654 562.7L576 589.3M600 573.3L576 589.3M600 573.3L637.3 591.7M668.3 578.3L637.3 591.7M654 562.7L637.3 591.7"/>
</g>
<g fill="#4a9ad6" stroke="#2d83c4" stroke-width="0.6">
<circle cx="662.7" cy="496.7" r="4.8"/><circle cx="642.7" cy="505.7" r="4.8"/><circle cx="665" cy="518.3" r="4.8"/><circle cx="643.3" cy="521.7" r="4.8"/><circle cx="666" cy="539" r="4.8"/><circle cx="608.3" cy="540" r="4.8"/><circle cx="640" cy="549" r="4.8"/><circle cx="654" cy="562.7" r="4.8"/><circle cx="600" cy="573.3" r="4.8"/><circle cx="668.3" cy="578.3" r="4.8"/><circle cx="576" cy="589.3" r="4.8"/><circle cx="637.3" cy="591.7" r="4.8"/>
</g>
</svg>
</body></html>
